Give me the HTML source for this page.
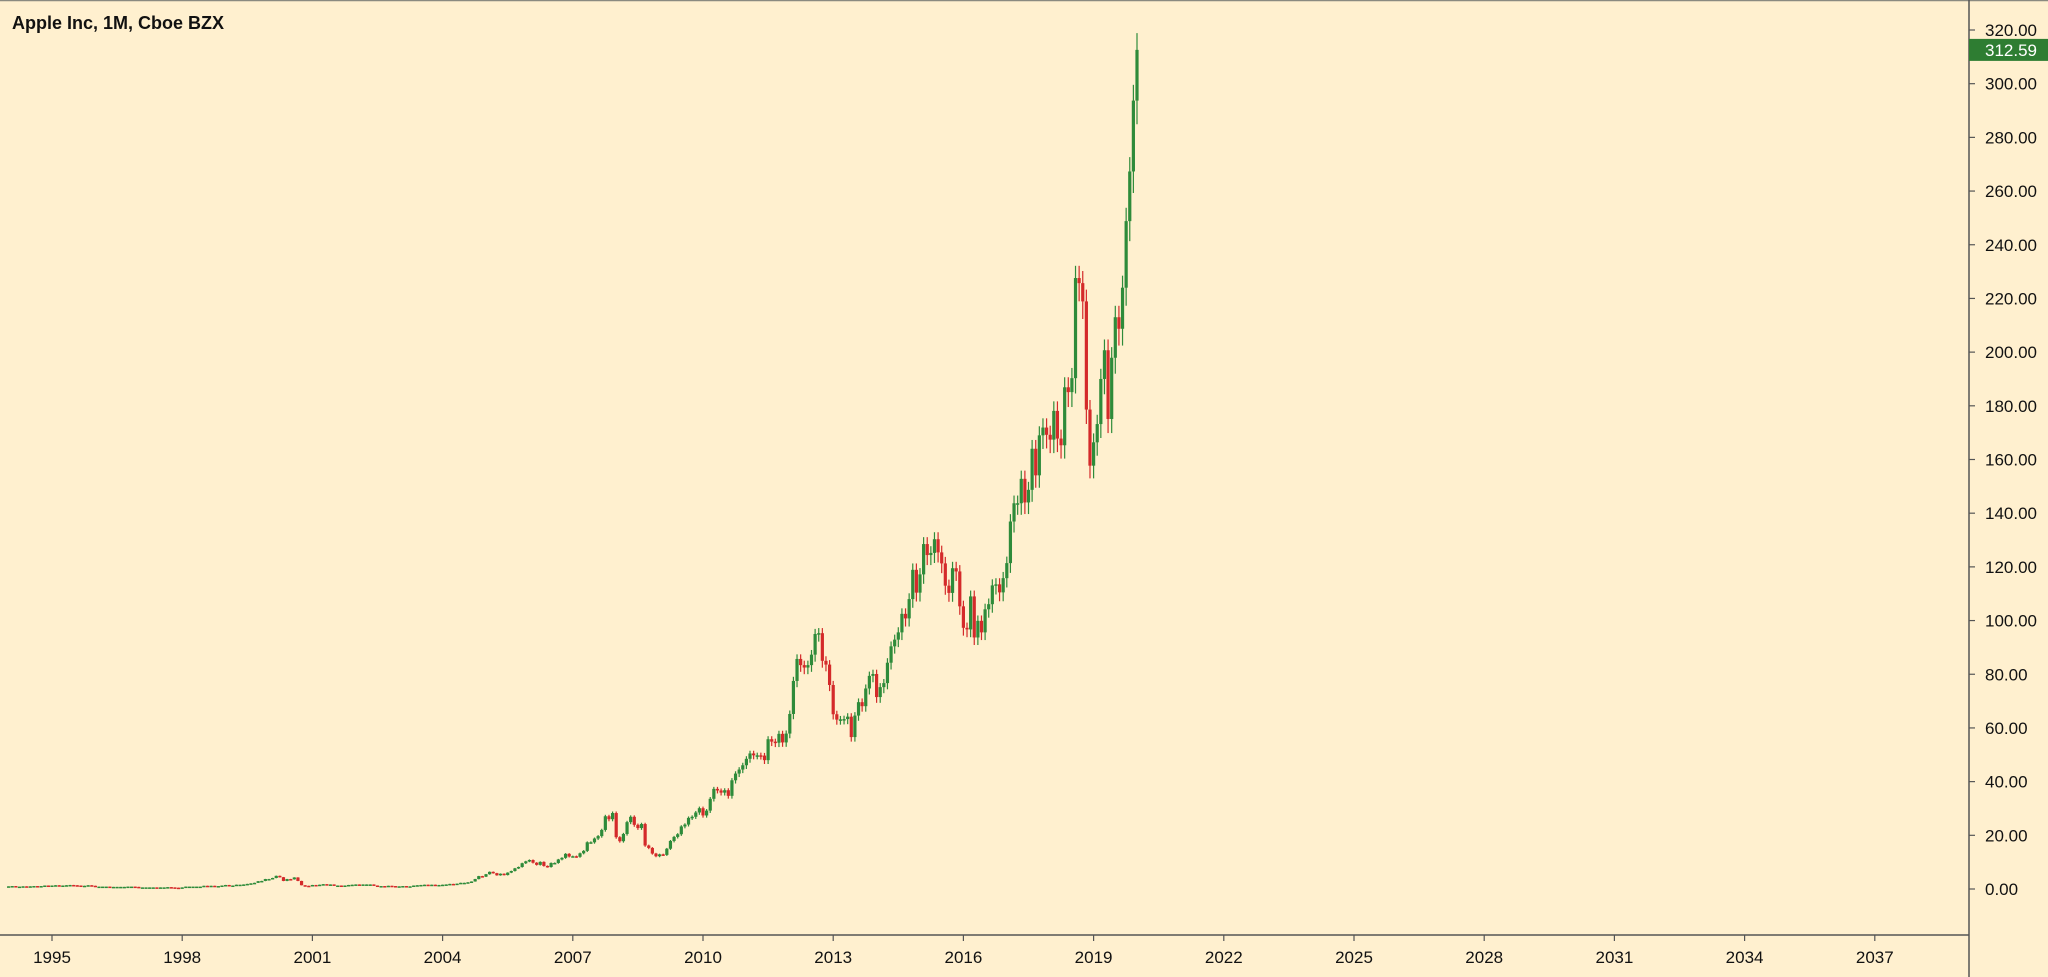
<!DOCTYPE html>
<html><head><meta charset="utf-8">
<style>
html,body{margin:0;padding:0;background:#fff0cf;}
svg{display:block;font-family:"Liberation Sans",sans-serif;}
</style></head>
<body>
<svg id="chart" width="2048" height="977">
<rect x="0" y="0" width="2048" height="977" fill="#fff0cf"/>
<line x1="0" y1="0.5" x2="2048" y2="0.5" stroke="#8a8a80" stroke-width="1.5"/>
<text x="12" y="29" font-size="18" font-weight="bold" fill="#111">Apple Inc, 1M, Cboe BZX</text>
<line x1="1969" y1="0" x2="1969" y2="977" stroke="#555" stroke-width="1.5"/>
<line x1="0" y1="935" x2="1969" y2="935" stroke="#555" stroke-width="1.5"/>
<g id="candles"></g>
<g id="yaxis"></g>
<g id="xaxis"></g>
<g>
<rect id="lastBox" x="1969" y="39" width="79" height="22" fill="#2e7d32"/>
<text id="lastText" x="1985" y="56" font-size="17" fill="#fff">312.59</text>
</g>
</svg>
<script>
const startYear = 1994;
const closes = [
1.0,1.1,0.9,0.9,1.0,0.9,1.0,1.1,0.9,1.1,1.3,1.2,
1.3,1.4,1.3,1.3,1.4,1.5,1.4,1.3,1.1,1.2,1.4,1.2,
0.9,0.9,0.9,0.9,0.8,0.8,0.8,0.8,0.8,0.9,0.9,0.8,
0.6,0.6,0.6,0.6,0.6,0.5,0.6,0.6,0.7,0.6,0.5,0.4,
0.6,0.9,0.9,0.9,0.9,0.9,1.2,1.1,1.2,1.1,1.1,1.3,
1.5,1.3,1.3,1.6,1.6,1.7,1.9,2.1,2.3,2.9,3.0,3.7,
3.7,4.1,4.9,4.4,3.0,3.7,3.6,4.3,3.0,1.4,1.2,1.1,
1.5,1.3,1.6,1.8,1.4,1.7,1.3,1.3,1.1,1.3,1.5,1.6,
1.7,1.6,1.7,1.7,1.7,1.3,1.1,1.1,1.0,1.2,1.1,1.0,
1.0,1.1,1.0,1.0,1.3,1.4,1.5,1.6,1.5,1.6,1.5,1.5,
1.6,1.7,1.9,1.8,2.0,2.3,2.3,2.5,2.8,3.7,4.8,4.6,
5.5,6.4,5.9,5.1,5.7,5.2,6.1,6.7,7.7,8.2,9.6,10.3,
10.8,9.8,9.0,10.1,8.6,8.2,9.7,9.7,11.0,11.6,13.1,12.1,
12.2,12.0,13.3,14.2,17.4,17.4,18.8,19.7,22.0,27.1,26.0,28.3,
19.3,17.8,20.5,24.9,26.9,23.9,22.7,24.2,16.2,15.3,13.2,12.2,
12.9,12.7,15.0,17.9,19.4,20.4,23.3,24.0,26.5,26.9,28.5,30.1,
27.4,29.2,33.6,37.3,36.7,35.9,36.8,34.7,40.5,43.0,44.5,46.1,
48.5,50.5,49.8,49.8,49.7,48.0,55.8,54.9,54.5,57.8,54.6,57.9,
65.2,77.5,85.7,83.4,82.5,83.4,87.3,95.0,95.3,85.0,83.6,76.0,
65.1,63.1,63.2,63.3,64.2,56.6,64.6,69.6,68.1,74.7,79.4,80.1,
71.5,75.2,76.7,84.3,90.4,92.9,95.6,102.5,100.8,108.0,118.9,110.4,
117.2,128.5,124.4,125.2,130.3,125.4,121.3,113.0,110.3,119.5,118.3,105.3,
97.3,96.7,109.0,93.7,99.9,95.6,104.2,106.1,113.1,113.5,110.5,115.8,
121.4,136.9,143.7,143.7,152.8,144.0,148.7,164.0,154.1,169.0,171.9,169.2,
167.4,178.1,167.8,165.3,186.9,185.1,190.3,227.6,225.7,218.9,178.6,157.7,
166.4,173.2,190.0,200.7,175.1,197.9,213.0,208.7,224.0,248.8,267.3,293.7,
312.59];
const priceTicks = [0,20,40,60,80,100,120,140,160,180,200,220,240,260,280,300,320];
const yearTicks = [1995,1998,2001,2004,2007,2010,2013,2016,2019,2022,2025,2028,2031,2034,2037];

const NS = "http://www.w3.org/2000/svg";
function xOf(yearFrac){ return 52 + (yearFrac - 1995) * 43.4; }
function yOf(p){ return 889 - p * (859/320); }
function mk(tag, attrs, parent){
  const e = document.createElementNS(NS, tag);
  for (const k in attrs) e.setAttribute(k, attrs[k]);
  parent.appendChild(e); return e;
}
const cg = document.getElementById('candles');
for (let i = 0; i < closes.length; i++){
  const o = i === 0 ? closes[0] : closes[i-1];
  const c = closes[i];
  const up = c >= o;
  const col = up ? '#2e8b3a' : '#d42a2a';
  const x = xOf(startYear + i/12);
  const hi = Math.max(o,c) * 1.02, lo = Math.min(o,c) * 0.97;
  const w = mk('line', {x1:x, x2:x, y1:yOf(hi), y2:yOf(lo), stroke:col, 'stroke-width':1.2}, cg);
  
  
  const top = yOf(Math.max(o,c)), bot = yOf(Math.min(o,c));
  const b = mk('rect', {x:x-1.6, y:top, width:3.2, height:Math.max(1.5, bot-top), fill:col}, cg);
  
  
}
const yg = document.getElementById('yaxis');
priceTicks.forEach(p => {
  const y = yOf(p);
  const t = mk('line', {x1:1969, x2:1975, y1:y, y2:y, stroke:'#555', 'stroke-width':1.2}, yg);
  
  
  const l = mk('text', {x:1985, y:y+6, 'font-size':17, fill:'#111'}, yg);
  l.textContent = p.toFixed(2);
  
  
});
const xg = document.getElementById('xaxis');
yearTicks.forEach(yr => {
  const x = xOf(yr);
  const t = mk('line', {x1:x, x2:x, y1:935, y2:941, stroke:'#555', 'stroke-width':1.2}, xg);
  
  
  const l = mk('text', {x:x, y:963, 'font-size':17, fill:'#111', 'text-anchor':'middle'}, xg);
  l.textContent = yr;
  
  
});
const last = closes[closes.length-1];
document.getElementById('lastBox').setAttribute('y', yOf(last) - 11);
document.getElementById('lastText').setAttribute('y', yOf(last) + 6);
document.getElementById('lastText').textContent = last.toFixed(2);
</script>
</body></html>
